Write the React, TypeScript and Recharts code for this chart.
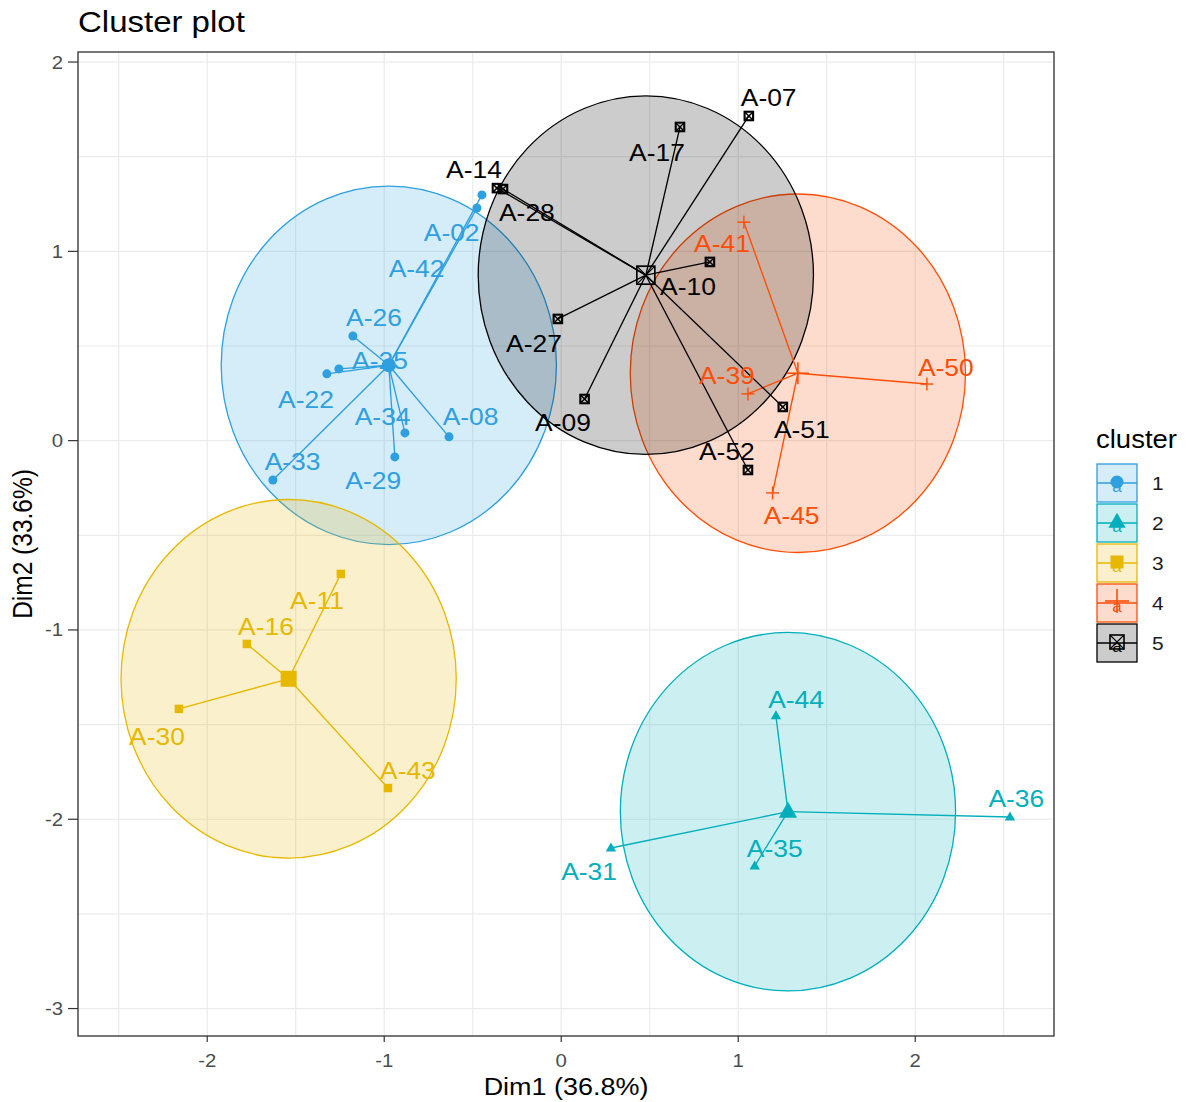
import React from 'react';
import {
  ScatterChart,
  Scatter,
  XAxis,
  YAxis,
  CartesianGrid,
  ReferenceArea,
  ReferenceLine,
  Legend,
} from 'recharts';

// ---------- axes ----------
const xDomain = [-2.73, 2.784];
const yDomain = [-3.145, 2.053];
const xMajorTicks = [-2, -1, 0, 1, 2];
const xMinorTicks = [-2.5, -1.5, -0.5, 0.5, 1.5, 2.5];
const yMajorTicks = [-3, -2, -1, 0, 1, 2];
const yMinorTicks = [-2.5, -1.5, -0.5, 0.5, 1.5];
const xTickLabels = ['-2', '-1', '0', '1', '2'];
const yTickLabels = ['-3', '-2', '-1', '0', '1', '2'];

const chartTitle = 'Cluster plot';
const xTitle = 'Dim1 (36.8%)';
const yTitle = 'Dim2 (33.6%)';
const legendTitle = 'cluster';

// ---------- clusters ----------
const clusterIds = ['1', '2', '3', '4', '5'];
const clusterColors = ['#2E9FDF', '#00AFBB', '#E7B800', '#FC4E07', '#000000'];
const clusterShapes = ['circle', 'triangle', 'square', 'plus', 'boxx'];

const cluster1Points = [
  { name: 'A-02', dim1: -0.448, dim2: 1.298 },
  { name: 'A-42', dim1: -0.476, dim2: 1.229 },
  { name: 'A-26', dim1: -1.177, dim2: 0.553 },
  { name: 'A-22', dim1: -1.324, dim2: 0.353 },
  { name: 'A-25', dim1: -1.256, dim2: 0.379 },
  { name: 'A-34', dim1: -0.883, dim2: 0.041 },
  { name: 'A-29', dim1: -0.94, dim2: -0.086 },
  { name: 'A-08', dim1: -0.634, dim2: 0.02 },
  { name: 'A-33', dim1: -1.629, dim2: -0.208 },
];
const cluster2Points = [
  { name: 'A-44', dim1: 1.213, dim2: -1.454 },
  { name: 'A-36', dim1: 2.535, dim2: -1.988 },
  { name: 'A-31', dim1: 0.281, dim2: -2.152 },
  { name: 'A-35', dim1: 1.093, dim2: -2.247 },
];
const cluster3Points = [
  { name: 'A-11', dim1: -1.245, dim2: -0.704 },
  { name: 'A-16', dim1: -1.776, dim2: -1.074 },
  { name: 'A-30', dim1: -2.16, dim2: -1.417 },
  { name: 'A-43', dim1: -0.979, dim2: -1.835 },
];
const cluster4Points = [
  { name: 'A-41', dim1: 1.032, dim2: 1.154 },
  { name: 'A-50', dim1: 2.066, dim2: 0.299 },
  { name: 'A-39', dim1: 1.055, dim2: 0.247 },
  { name: 'A-45', dim1: 1.194, dim2: -0.276 },
];
const cluster5Points = [
  { name: 'A-07', dim1: 1.06, dim2: 1.715 },
  { name: 'A-17', dim1: 0.671, dim2: 1.657 },
  { name: 'A-14', dim1: -0.363, dim2: 1.334 },
  { name: 'A-28', dim1: -0.329, dim2: 1.329 },
  { name: 'A-10', dim1: 0.84, dim2: 0.944 },
  { name: 'A-27', dim1: -0.019, dim2: 0.643 },
  { name: 'A-09', dim1: 0.132, dim2: 0.22 },
  { name: 'A-51', dim1: 1.252, dim2: 0.178 },
  { name: 'A-52', dim1: 1.055, dim2: -0.155 },
];

const centroids = [
  { cluster: '1', dim1: -0.974, dim2: 0.398 },
  { cluster: '2', dim1: 1.281, dim2: -1.96 },
  { cluster: '3', dim1: -1.54, dim2: -1.258 },
  { cluster: '4', dim1: 1.337, dim2: 0.356 },
  { cluster: '5', dim1: 0.478, dim2: 0.874 },
];
const ellipseRadius = [0.947, 0.947, 0.947, 0.947, 0.947];

// repelled label anchors (data coordinates)
const labelPositions: Record<string, [number, number]> = {
  'A-02': [-0.619, 1.099],
  'A-42': [-0.817, 0.911],
  'A-26': [-1.058, 0.652],
  'A-25': [-1.024, 0.426],
  'A-22': [-1.442, 0.219],
  'A-34': [-1.009, 0.13],
  'A-08': [-0.512, 0.127],
  'A-33': [-1.518, -0.111],
  'A-29': [-1.062, -0.211],
  'A-44': [1.327, -1.365],
  'A-36': [2.571, -1.892],
  'A-31': [0.157, -2.278],
  'A-35': [1.206, -2.152],
  'A-11': [-1.38, -0.842],
  'A-16': [-1.668, -0.979],
  'A-30': [-2.284, -1.56],
  'A-43': [-0.866, -1.74],
  'A-41': [0.908, 1.043],
  'A-50': [2.173, 0.389],
  'A-39': [0.936, 0.347],
  'A-45': [1.302, -0.393],
  'A-07': [1.172, 1.815],
  'A-17': [0.541, 1.525],
  'A-14': [-0.493, 1.43],
  'A-28': [-0.194, 1.207],
  'A-10': [0.716, 0.812],
  'A-27': [-0.154, 0.511],
  'A-09': [0.01, 0.094],
  'A-51': [1.359, 0.057],
  'A-52': [0.936, -0.059],
};

const clusterPoints = [cluster1Points, cluster2Points, cluster3Points, cluster4Points, cluster5Points];

// ---------- styling ----------
const FONT = '"Liberation Sans", Arial, Helvetica, sans-serif';
const STRETCH = 1.1;
const W = 1188;
const H = 1102;

function SText({ x, y, text, size, fill, anchor = 'middle', baseline = 'central', rotate = 0 }: any) {
  const transform = `translate(${x},${y}) scale(${STRETCH},1)` + (rotate ? ` rotate(${rotate})` : '');
  return (
    <text
      transform={transform}
      x={0}
      y={0}
      fontFamily={FONT}
      fontSize={size}
      fill={fill}
      textAnchor={anchor}
      dominantBaseline={baseline}
    >
      {text}
    </text>
  );
}

function Marker({ kind, cx, cy, s, color, sw = 1.5 }: any) {
  if (cx == null || cy == null) return <g />;
  switch (kind) {
    case 'circle':
      return <circle cx={cx} cy={cy} r={s / 2} fill={color} />;
    case 'triangle': {
      const w = s * 1.15;
      const h = s;
      return (
        <polygon
          points={`${cx},${cy - h * 0.62} ${cx - w / 2},${cy + h * 0.38} ${cx + w / 2},${cy + h * 0.38}`}
          fill={color}
        />
      );
    }
    case 'square':
      return <rect x={cx - s / 2} y={cy - s / 2} width={s} height={s} fill={color} />;
    case 'plus':
      return (
        <g stroke={color} strokeWidth={sw}>
          <line x1={cx - s / 2} y1={cy} x2={cx + s / 2} y2={cy} />
          <line x1={cx} y1={cy - s / 2} x2={cx} y2={cy + s / 2} />
        </g>
      );
    case 'boxx':
    default: {
      const h = s / 2;
      return (
        <g stroke={color} strokeWidth={sw} fill="none">
          <rect x={cx - h} y={cy - h} width={s} height={s} />
          <line x1={cx - h} y1={cy - h} x2={cx + h} y2={cy + h} strokeWidth={sw * 0.7} />
          <line x1={cx - h} y1={cy + h} x2={cx + h} y2={cy - h} strokeWidth={sw * 0.7} />
        </g>
      );
    }
  }
}

const pointSize: Record<string, number> = { circle: 9, triangle: 9, square: 8.5, plus: 13, boxx: 8.5 };
const pointStroke: Record<string, number> = { circle: 1, triangle: 1, square: 1, plus: 1.4, boxx: 2.1 };
const centroidSize: Record<string, number> = { circle: 14, triangle: 16, square: 16, plus: 22, boxx: 18 };
const centroidStroke: Record<string, number> = { circle: 1, triangle: 1, square: 1, plus: 1.6, boxx: 1.7 };

const allXTicks = [...xMajorTicks, ...xMinorTicks].sort((a, b) => a - b);
const allYTicks = [...yMajorTicks, ...yMinorTicks].sort((a, b) => a - b);

function XTick(props: any) {
  const { x, y, payload } = props;
  const idx = xMajorTicks.indexOf(payload?.value);
  if (idx < 0) return <g />;
  return (
    <g>
      <line x1={x} y1={y} x2={x} y2={y + 6} stroke="#333333" strokeWidth={1.2} />
      <SText x={x} y={y + 31} text={xTickLabels[idx]} size={18.5} fill="#4D4D4D" baseline="alphabetic" />
    </g>
  );
}

function YTick(props: any) {
  const { x, y, payload } = props;
  const idx = yMajorTicks.indexOf(payload?.value);
  if (idx < 0) return <g />;
  return (
    <g>
      <line x1={x - 10} y1={y} x2={x} y2={y} stroke="#333333" strokeWidth={1.2} />
      <SText x={x - 15} y={y + 6.5} text={yTickLabels[idx]} size={18.5} fill="#4D4D4D" anchor="end" baseline="alphabetic" />
    </g>
  );
}

function LegendBox() {
  return (
    <svg width={108} height={260} style={{ display: 'block', overflow: 'visible' }}>
      <SText x={16} y={28} text={legendTitle} size={25} fill="#000000" anchor="start" baseline="alphabetic" />
      {clusterIds.map((id, i) => {
        const top = 44 + 40 * i;
        const left = 17;
        const cx = left + 20;
        const cy = top + 19;
        const color = clusterColors[i];
        const kind = clusterShapes[i];
        const lsize: Record<string, number> = { circle: 13, triangle: 15, square: 13, plus: 24, boxx: 14 };
        return (
          <g key={id}>
            <rect x={left} y={top} width={40} height={38} fill={color} fillOpacity={0.2} stroke={color} strokeWidth={1.3} />
            <line x1={left} y1={cy} x2={left + 40} y2={cy} stroke={color} strokeWidth={1.3} />
            <text x={cx} y={cy + 9} fontFamily={FONT} fontSize={17} fill={color} textAnchor="middle">
              a
            </text>
            <Marker kind={kind} cx={cx} cy={cy - (kind === 'plus' ? 2 : 1)} s={lsize[kind]} color={color} sw={1.6} />
            <SText x={72} y={cy + 7} text={id} size={19} fill="#1A1A1A" anchor="start" baseline="alphabetic" />
          </g>
        );
      })}
    </svg>
  );
}

export default function App() {
  return (
    <div style={{ position: 'absolute', left: 0, top: 0, width: W, height: H, background: '#FFFFFF' }}>
      <ScatterChart width={W} height={H} margin={{ top: 52, right: 134, bottom: 0, left: 0 }}>
        <CartesianGrid stroke="#EBEBEB" strokeWidth={1.2} />
        <XAxis
          type="number"
          dataKey="dim1"
          domain={xDomain}
          ticks={allXTicks}
          interval={0}
          allowDataOverflow
          height={66}
          tickLine={false}
          axisLine={false}
          tickSize={0}
          tickMargin={0}
          tick={(p: any) => <XTick {...p} />}
        />
        <YAxis
          type="number"
          dataKey="dim2"
          domain={yDomain}
          ticks={allYTicks}
          interval={0}
          allowDataOverflow
          width={78}
          tickLine={false}
          axisLine={false}
          tickSize={0}
          tickMargin={0}
          tick={(p: any) => <YTick {...p} />}
        />

        {centroids.map((c, i) => {
          const r = ellipseRadius[i];
          const color = clusterColors[i];
          return (
            <ReferenceArea
              key={`ell-${c.cluster}`}
              x1={c.dim1 - r}
              x2={c.dim1 + r}
              y1={c.dim2 - r}
              y2={c.dim2 + r}
              ifOverflow="visible"
              shape={(p: any) => (
                <ellipse
                  cx={p.x + p.width / 2}
                  cy={p.y + p.height / 2}
                  rx={Math.abs(p.width) / 2}
                  ry={Math.abs(p.height) / 2}
                  fill={color}
                  fillOpacity={0.2}
                  stroke={color}
                  strokeWidth={1.3}
                />
              )}
            />
          );
        })}

        {clusterPoints.map((pts, ci) =>
          pts.map((p) => (
            <ReferenceLine
              key={`seg-${p.name}`}
              segment={[
                { x: centroids[ci].dim1, y: centroids[ci].dim2 },
                { x: p.dim1, y: p.dim2 },
              ]}
              stroke={clusterColors[ci]}
              strokeWidth={1.35}
              ifOverflow="visible"
            />
          ))
        )}

        {clusterPoints.map((pts, ci) => (
          <Scatter
            key={`pts-${ci}`}
            name={clusterIds[ci]}
            data={pts}
            isAnimationActive={false}
            shape={(p: any) => (
              <Marker
                kind={clusterShapes[ci]}
                cx={p.cx}
                cy={p.cy}
                s={pointSize[clusterShapes[ci]]}
                sw={pointStroke[clusterShapes[ci]]}
                color={clusterColors[ci]}
              />
            )}
          />
        ))}

        {centroids.map((c, ci) => (
          <Scatter
            key={`cen-${ci}`}
            name={`centre ${c.cluster}`}
            data={[c]}
            isAnimationActive={false}
            legendType="none"
            shape={(p: any) => (
              <Marker
                kind={clusterShapes[ci]}
                cx={p.cx}
                cy={p.cy}
                s={centroidSize[clusterShapes[ci]]}
                sw={centroidStroke[clusterShapes[ci]]}
                color={clusterColors[ci]}
              />
            )}
          />
        ))}

        {clusterPoints.map((pts, ci) => (
          <Scatter
            key={`lab-${ci}`}
            name={`labels ${clusterIds[ci]}`}
            legendType="none"
            data={pts.map((p) => ({ name: p.name, dim1: labelPositions[p.name][0], dim2: labelPositions[p.name][1] }))}
            isAnimationActive={false}
            shape={(p: any) =>
              p.cx == null ? (
                <g />
              ) : (
                <SText x={p.cx} y={p.cy} text={p.payload?.name ?? p.name} size={24} fill={clusterColors[ci]} />
              )
            }
          />
        ))}

        <ReferenceArea
          x1={xDomain[0]}
          x2={xDomain[1]}
          y1={yDomain[0]}
          y2={yDomain[1]}
          ifOverflow="visible"
          shape={(p: any) => (
            <rect x={p.x} y={p.y} width={p.width} height={p.height} fill="none" stroke="#333333" strokeWidth={1.3} />
          )}
        />

        <Legend
          layout="vertical"
          align="center"
          verticalAlign="middle"
          content={() => <LegendBox />}
          wrapperStyle={{ position: 'absolute', left: 1080, top: 420, width: 108, height: 260 }}
        />
      </ScatterChart>

      <svg width={W} height={H} style={{ position: 'absolute', left: 0, top: 0, pointerEvents: 'none' }}>
        <SText x={78} y={32} text={chartTitle} size={30} fill="#000000" anchor="start" baseline="alphabetic" />
        <SText x={566} y={1086} text={xTitle} size={24.5} fill="#000000" />
        <SText x={23} y={544} text={yTitle} size={24.5} fill="#000000" rotate={-90} />
      </svg>
    </div>
  );
}
